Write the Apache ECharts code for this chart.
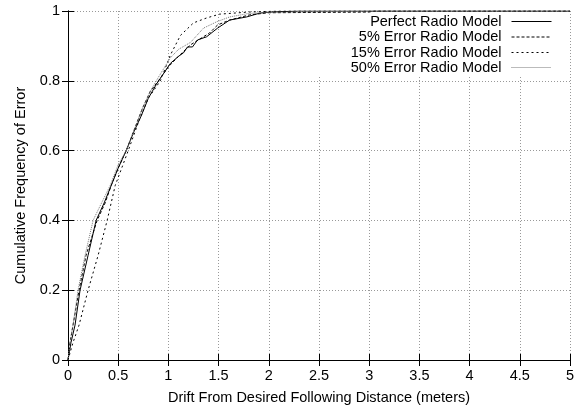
<!DOCTYPE html>
<html>
<head>
<meta charset="utf-8">
<script src="https://cdn.jsdelivr.net/npm/echarts@6/dist/echarts.min.js"></script>
<style>
html,body{margin:0;padding:0;background:#fff;}
#chart{width:584px;height:410px;}
</style>
</head>
<body>
<div id="chart"></div>
<script>
// Series names (legend labels)
const seriesNames = ["Perfect Radio Model", "5% Error Radio Model", "15% Error Radio Model", "50% Error Radio Model"];

// [drift (m), cumulative frequency]
const perfectModel = [[0,0],[0.03,0.05],[0.07,0.1],[0.12,0.2],[0.2,0.3],[0.28,0.4],[0.36,0.45],[0.43,0.5],[0.5,0.55],[0.58,0.6],[0.65,0.65],[0.73,0.7],[0.8,0.75],[0.88,0.79],[0.95,0.82],[1.02,0.85],[1.1,0.87],[1.15,0.88],[1.19,0.897],[1.24,0.897],[1.29,0.917],[1.38,0.926],[1.49,0.951],[1.61,0.974],[1.78,0.983],[1.91,0.994],[2.01,0.997],[2.3,1],[5,1]];
const error5Model = [[0,0],[0.02,0.05],[0.05,0.1],[0.11,0.2],[0.18,0.3],[0.29,0.4],[0.37,0.45],[0.43,0.5],[0.5,0.55],[0.58,0.6],[0.66,0.66],[0.74,0.72],[0.82,0.77],[0.9,0.8],[1.0,0.84],[1.1,0.87],[1.22,0.903],[1.41,0.937],[1.49,0.96],[1.61,0.974],[1.81,0.989],[2.0,0.995],[3.0,0.997],[3.05,1],[5,1]];
const error15Model = [[0,0],[0.05,0.05],[0.11,0.1],[0.2,0.2],[0.3,0.3],[0.39,0.4],[0.47,0.5],[0.6,0.6],[0.7,0.68],[0.8,0.75],[0.92,0.8],[1.02,0.874],[1.12,0.93],[1.25,0.966],[1.38,0.98],[1.51,0.991],[1.8,0.997],[2.1,1],[5,1]];
const error50Model = [[0,0],[0.02,0.05],[0.05,0.1],[0.1,0.2],[0.17,0.3],[0.25,0.4],[0.3,0.43],[0.42,0.5],[0.5,0.56],[0.58,0.6],[0.66,0.66],[0.74,0.72],[0.82,0.77],[0.9,0.81],[1.02,0.866],[1.1,0.89],[1.22,0.91],[1.35,0.951],[1.48,0.969],[1.61,0.983],[1.8,0.993],[2.0,0.996],[2.5,0.998],[3.0,1],[5,1]];

const xTitle = "Drift From Desired Following Distance (meters)";
const yTitle = "Cumulative Frequency of Error";
const xMin = 0, xMax = 5, xStep = 0.5;
const yMin = 0, yMax = 1, yStep = 0.2;

const FONT = "'Liberation Sans', Arial, sans-serif";
const FS = 14.5;

const seriesData = [perfectModel, error5Model, error15Model, error50Model];
const lineStyles = [
  {color:'#000', width:1, type:'solid'},
  {color:'#000', width:1, type:[3,2]},
  {color:'#000', width:1, type:[2,3]},
  {color:'#777', width:1, type:[1,1]}
];

const chart = echarts.init(document.getElementById('chart'), null, {renderer:'canvas'});

const gridLine = {show:true, lineStyle:{color:'#999', type:[1,2], width:1}};
const axisLineStyle = {show:true, lineStyle:{color:'#000', width:1}};
const tickStyle = {show:true, inside:true, length:6, lineStyle:{color:'#000', width:1}};

const legendTops = [14, 29.5, 45, 60];
const legends = seriesNames.map((n, i) => ({
  data:[n],
  right:32,
  top:legendTops[i],
  orient:'horizontal',
  align:'right',
  padding:0,
  itemWidth:40,
  itemHeight:14,
  selectedMode:false,
  textStyle:{fontFamily:FONT, fontSize:FS, color:'#000', padding:[0,5,0,0]},
  itemStyle:{opacity:0},
  lineStyle:Object.assign({}, lineStyles[i]),
  z:20
}));

chart.setOption({
  animation:false,
  backgroundColor:'#fff',
  grid:{left:68, right:14, top:11, bottom:49, containLabel:false},
  graphic:[{
    type:'rect', right:16, top:13, shape:{width:258, height:62},
    style:{fill:'#fff'}, z:10, silent:true
  }],
  legend:legends,
  xAxis:[{
    type:'value', min:xMin, max:xMax, interval:xStep,
    name:xTitle, nameLocation:'middle', nameGap:30,
    nameTextStyle:{fontFamily:FONT, fontSize:FS, color:'#000'},
    axisLine:axisLineStyle, axisTick:tickStyle,
    axisLabel:{fontFamily:FONT, fontSize:FS, color:'#000', margin:8},
    splitLine:gridLine
  },{
    type:'value', min:xMin, max:xMax, interval:xStep, position:'top',
    axisLine:axisLineStyle, axisTick:tickStyle, axisLabel:{show:false}, splitLine:{show:false}
  }],
  yAxis:[{
    type:'value', min:yMin, max:yMax, interval:yStep,
    name:yTitle, nameLocation:'middle', nameGap:38,
    nameTextStyle:{fontFamily:FONT, fontSize:FS, color:'#000'},
    axisLine:axisLineStyle, axisTick:tickStyle,
    axisLabel:{fontFamily:FONT, fontSize:FS, color:'#000', margin:8},
    splitLine:gridLine
  },{
    type:'value', min:yMin, max:yMax, interval:yStep, position:'right',
    axisLine:axisLineStyle, axisTick:tickStyle, axisLabel:{show:false}, splitLine:{show:false}
  }],
  series:seriesNames.map((n, i) => ({
    name:n, type:'line', data:seriesData[i],
    xAxisIndex:0, yAxisIndex:0,
    symbol:'none', showSymbol:false, smooth:false,
    lineStyle:lineStyles[i], itemStyle:{color:lineStyles[i].color},
    z:5, clip:true
  }))
});
</script>
</body>
</html>
